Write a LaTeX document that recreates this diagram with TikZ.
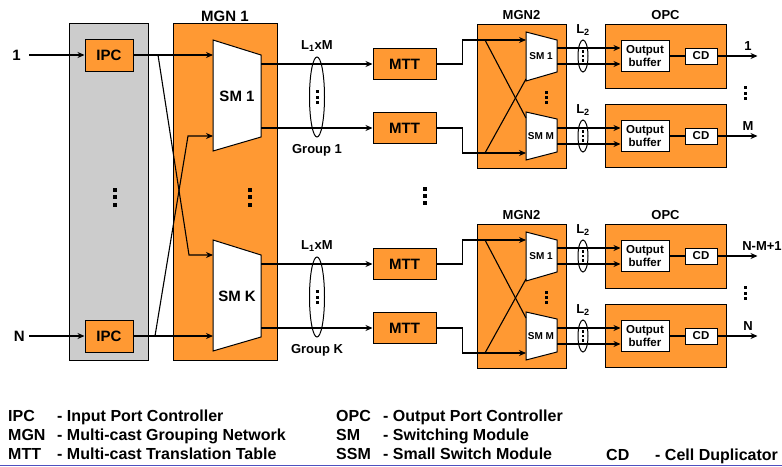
\documentclass[tikz,border=0pt]{standalone}
\usepackage{fontspec}
\setmainfont{Liberation Sans}
\usetikzlibrary{arrows.meta,positioning,shapes.geometric}

\definecolor{mgnorange}{RGB}{255,153,51}
\definecolor{ipcgray}{RGB}{204,204,204}
\definecolor{rulecol}{RGB}{80,80,190}

\tikzset{
  pics/dotcol/.style n args={2}{code={
    \foreach \k in {-1,0,1}
      \fill (-#2/2,\k*#1-#2/2) rectangle ++(#2,#2);
  }}
}

\begin{document}
\begin{tikzpicture}[
    x=1pt, y=-1pt,
    lbig/.style={font=\bfseries\fontsize{15}{18}\selectfont},
    lmid/.style={font=\bfseries\fontsize{13}{15}\selectfont},
    lsml/.style={font=\bfseries\fontsize{10}{12}\selectfont},
    lkey/.style={font=\bfseries\fontsize{16}{18}\selectfont, anchor=base west, inner sep=0pt},
    blk/.style={draw, fill=mgnorange, line width=1pt, inner sep=0pt},
    wbox/.style={draw, fill=white, line width=1pt, inner sep=0pt, align=center,
                 font=\bfseries\fontsize{11.5}{13}\selectfont},
    smod/.style={draw, fill=white, line width=1pt},
    grp/.style={draw, ellipse, line width=1pt, inner sep=0pt},
    wire/.style={line width=1.1pt},
    arrow/.style={wire, -{Stealth[length=7pt, width=6pt]}}
]
\useasboundingbox (0,0) rectangle (782,466);

% input port controllers
\node[draw, fill=ipcgray, line width=1pt, minimum width=79, minimum height=337] (ipcbank) at (108.5,191.5) {};
\node[blk, lbig, minimum width=48, minimum height=32] (ipc1) at (109,55) {IPC};
\node[blk, lbig, minimum width=48, minimum height=32] (ipcN) at (109,336) {IPC};
\pic at (115,197) {dotcol={7.5}{4}};

\coordinate (in1) at (29,55);
\coordinate (inN) at (29,336);
\node[lbig, inner sep=0pt, left=8pt of in1] (lab1) {1};
\node[lbig, inner sep=0pt, left=4pt of inN] (labN) {N};
\draw[arrow] (in1) -- (ipc1);
\draw[arrow] (inN) -- (ipcN);

% MGN 1
\node[blk, minimum width=104, minimum height=337] (mgn1) at (225,191.5) {};
\node[lbig, above=1pt of mgn1, inner sep=0pt] (mgn1lab) {MGN 1};
\pic at (250,197) {dotcol={7.5}{4}};
\pic at (425,196) {dotcol={7}{4}};

% one pass per group: SM of MGN 1, MTTs, MGN2, OPCs
\foreach \g/\dy/\smk/\grp/\oa/\ob/\ox in {1/0/SM 1/Group 1/1/M/748, 2/200/SM K/Group K/N-M+1/N/762}{
  \draw[smod] (213,40+\dy) -- (261,55+\dy) -- (261,137+\dy) -- (213,151+\dy) -- cycle;
  \node[lbig] (smk\g) at (237,96+\dy) {\smk};
  \coordinate (smina\g) at (213,55+\dy);
  \coordinate (sminb\g) at (213,136+\dy);
  \coordinate (smouta\g) at (261,64+\dy);
  \coordinate (smoutb\g) at (261,128+\dy);

  \node[grp, minimum width=15, minimum height=80] (lgrp\g) at (317,97+\dy) {};
  \pic at (lgrp\g) {dotcol={5.5}{3}};
  \node[lmid, above=1pt of lgrp\g] (lgrplab\g) {L\textsubscript{1}xM};
  \node[lmid, below=3pt of lgrp\g] (grplab\g) {\grp};

  \node[blk, lbig, minimum width=63, minimum height=31] (mtta\g) at (404.5,64+\dy) {MTT};
  \node[blk, lbig, minimum width=63, minimum height=31] (mttb\g) at (404.5,128+\dy) {MTT};
  \draw[arrow] (smouta\g) -- (mtta\g);
  \draw[arrow] (smoutb\g) -- (mttb\g);

  % MGN2
  \node[blk, minimum width=89, minimum height=144] (mgnb\g) at (521.5,96+\dy) {};
  \node[lmid, above=0pt of mgnb\g] (mgnblab\g) {MGN2};
  \draw[smod] (526,32+\dy) -- (557,40+\dy) -- (557,72+\dy) -- (526,81+\dy) -- cycle;
  \node[lsml] (smc\g) at (541,56+\dy) {SM 1};
  \draw[smod] (526,112+\dy) -- (557,119+\dy) -- (557,152+\dy) -- (526,160+\dy) -- cycle;
  \node[lsml] (smd\g) at (541,136+\dy) {SM M};
  \pic at (546,97+\dy) {dotcol={5}{3}};
  \coordinate (sminc\g) at (526,40+\dy);
  \coordinate (smind\g) at (526,153+\dy);
  \coordinate (xc\g) at (485,40+\dy);
  \coordinate (xd\g) at (485,153+\dy);
  \coordinate (xce\g) at (526,118+\dy);
  \coordinate (xde\g) at (526,79+\dy);
  \draw[arrow] (mtta\g.east) -- ++(26,0) |- (sminc\g);
  \draw[arrow] (mttb\g.east) -- ++(26,0) |- (smind\g);
  \draw[wire] (xc\g) -- (xce\g);
  \draw[wire] (xd\g) -- (xde\g);

  % OPCs
  \node[blk, minimum width=121, minimum height=64] (opca\g) at (665.5,56+\dy) {};
  \node[lmid, above=0pt of opca\g] (opclab\g) {OPC};
  \node[blk, minimum width=121, minimum height=63] (opcb\g) at (665.5,135.5+\dy) {};
  \node[wbox, minimum width=48, minimum height=31] (bufa\g) at (645,56+\dy) {Output\\buffer};
  \node[wbox, minimum width=48, minimum height=31] (bufb\g) at (645,136+\dy) {Output\\buffer};
  \node[wbox, minimum width=32, minimum height=16] (cda\g) at (701,56+\dy) {CD};
  \node[wbox, minimum width=32, minimum height=16] (cdb\g) at (701,136+\dy) {CD};
  \draw[wire] (bufa\g) -- (cda\g);
  \draw[wire] (bufb\g) -- (cdb\g);
  \draw[arrow] (cda\g.east) -- ++(40,0) coordinate (outa\g);
  \draw[arrow] (cdb\g.east) -- ++(40,0) coordinate (outb\g);
  \node[lmid] (outalab\g) at (\ox,46+\dy) {\oa};
  \node[lmid] (outblab\g) at (748,126+\dy) {\ob};
  \pic at (745,93+\dy) {dotcol={5.5}{3}};

  % L2 bundles
  \coordinate (soc\g) at (557,48+\dy);
  \coordinate (sod\g) at (557,64+\dy);
  \coordinate (soe\g) at (557,128+\dy);
  \coordinate (sof\g) at (557,144+\dy);
  \draw[arrow] (soc\g) -- (bufa\g.west |- soc\g);
  \draw[arrow] (sod\g) -- (bufa\g.west |- sod\g);
  \draw[arrow] (soe\g) -- (bufb\g.west |- soe\g);
  \draw[arrow] (sof\g) -- (bufb\g.west |- sof\g);
  \node[grp, minimum width=10, minimum height=32] (lgrpc\g) at (583,56+\dy) {};
  \node[grp, minimum width=10, minimum height=32] (lgrpd\g) at (583,136+\dy) {};
  \pic at (lgrpc\g) {dotcol={4.5}{2.5}};
  \pic at (lgrpd\g) {dotcol={4.5}{2.5}};
  \node[lmid, above=0pt of lgrpc\g] (lgrpclab\g) {L\textsubscript{2}};
  \node[lmid, above=0pt of lgrpd\g] (lgrpdlab\g) {L\textsubscript{2}};
}

% links from the IPCs into MGN 1
\coordinate (xa) at (158,55);
\coordinate (xb) at (155,336);
\draw[arrow] (ipc1) -- (smina1);
\draw[arrow] (ipcN) -- (sminb2);
\draw[arrow] (xa) -- ([xshift=-24pt]smina2) -- (smina2);
\draw[arrow] (xb) -- ([xshift=-25pt]sminb1) -- (sminb1);

% legend
\node[lkey] (kipc) at (8,421) {IPC};
\node[lkey] (dipc) at (57,421) {- Input Port Controller};
\node[lkey] (kmgn) at (8,440) {MGN};
\node[lkey] (dmgn) at (57,440) {- Multi-cast Grouping Network};
\node[lkey] (kmtt) at (8,459) {MTT};
\node[lkey] (dmtt) at (57,459) {- Multi-cast Translation Table};
\node[lkey] (kopc) at (336,421) {OPC};
\node[lkey] (dopc) at (383,421) {- Output Port Controller};
\node[lkey] (ksm) at (336,440) {SM};
\node[lkey] (dsm) at (383,440) {- Switching Module};
\node[lkey] (kssm) at (336,459) {SSM};
\node[lkey] (dssm) at (383,459) {- Small Switch Module};
\node[lkey] (kcd) at (606,460) {CD};
\node[lkey] (dcd) at (655,460) {- Cell Duplicator};

\draw[rulecol, line width=1.2pt] (0,465.2) -- (782,465.2);
\end{tikzpicture}
\end{document}
